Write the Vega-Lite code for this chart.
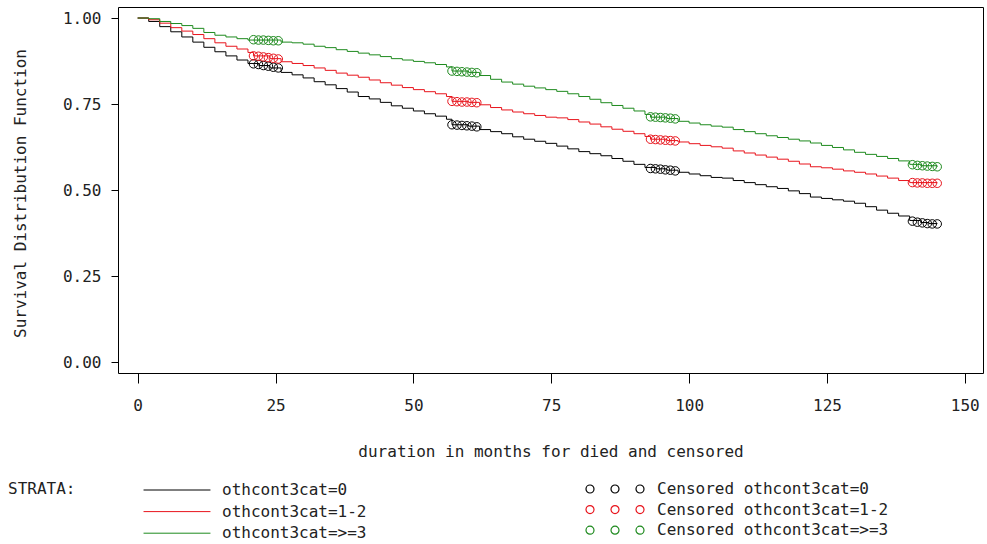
{
  "$schema": "https://vega.github.io/schema/vega-lite/v6.json",
  "width": 865,
  "height": 366,
  "autosize": {"type": "none"},
  "padding": {"left": 118, "top": 7, "right": 4, "bottom": 171},
  "background": "white",
  "config": {
    "view": {"stroke": "#000000", "strokeWidth": 1},
    "font": "DejaVu Sans Mono",
    "axis": {"domain": false, "grid": false, "tickColor": "#000000", "labelColor": "#222222", "titleColor": "#222222", "labelFont": "DejaVu Sans Mono", "titleFont": "DejaVu Sans Mono", "labelFontSize": 16, "titleFontSize": 16, "titleFontWeight": "normal"},
    "legend": {"labelFont": "DejaVu Sans Mono", "titleFont": "DejaVu Sans Mono", "labelFontSize": 16, "titleFontSize": 16, "titleFontWeight": "normal", "labelColor": "#222222", "titleColor": "#222222", "labelLimit": 500}
  },
  "datasets": {
    "curves": [
      {"strata": "othcont3cat=0", "t": 0, "s": 1.0},
      {"strata": "othcont3cat=0", "t": 2, "s": 0.99},
      {"strata": "othcont3cat=0", "t": 4, "s": 0.975},
      {"strata": "othcont3cat=0", "t": 6, "s": 0.96},
      {"strata": "othcont3cat=0", "t": 8, "s": 0.945},
      {"strata": "othcont3cat=0", "t": 10, "s": 0.93},
      {"strata": "othcont3cat=0", "t": 12, "s": 0.915},
      {"strata": "othcont3cat=0", "t": 14, "s": 0.902},
      {"strata": "othcont3cat=0", "t": 16, "s": 0.89},
      {"strata": "othcont3cat=0", "t": 18, "s": 0.878},
      {"strata": "othcont3cat=0", "t": 20, "s": 0.868},
      {"strata": "othcont3cat=0", "t": 22, "s": 0.862},
      {"strata": "othcont3cat=0", "t": 24, "s": 0.855},
      {"strata": "othcont3cat=0", "t": 26, "s": 0.842},
      {"strata": "othcont3cat=0", "t": 28, "s": 0.835},
      {"strata": "othcont3cat=0", "t": 30, "s": 0.826},
      {"strata": "othcont3cat=0", "t": 32, "s": 0.815},
      {"strata": "othcont3cat=0", "t": 34, "s": 0.806},
      {"strata": "othcont3cat=0", "t": 36, "s": 0.795},
      {"strata": "othcont3cat=0", "t": 38, "s": 0.785},
      {"strata": "othcont3cat=0", "t": 40, "s": 0.772},
      {"strata": "othcont3cat=0", "t": 42, "s": 0.765},
      {"strata": "othcont3cat=0", "t": 44, "s": 0.755},
      {"strata": "othcont3cat=0", "t": 46, "s": 0.745},
      {"strata": "othcont3cat=0", "t": 48, "s": 0.738},
      {"strata": "othcont3cat=0", "t": 50, "s": 0.73},
      {"strata": "othcont3cat=0", "t": 52, "s": 0.722},
      {"strata": "othcont3cat=0", "t": 54, "s": 0.715},
      {"strata": "othcont3cat=0", "t": 56, "s": 0.706},
      {"strata": "othcont3cat=0", "t": 57, "s": 0.69},
      {"strata": "othcont3cat=0", "t": 60, "s": 0.686},
      {"strata": "othcont3cat=0", "t": 62, "s": 0.676},
      {"strata": "othcont3cat=0", "t": 64, "s": 0.67},
      {"strata": "othcont3cat=0", "t": 66, "s": 0.664},
      {"strata": "othcont3cat=0", "t": 68, "s": 0.655},
      {"strata": "othcont3cat=0", "t": 70, "s": 0.648},
      {"strata": "othcont3cat=0", "t": 72, "s": 0.642},
      {"strata": "othcont3cat=0", "t": 74, "s": 0.636},
      {"strata": "othcont3cat=0", "t": 76, "s": 0.628},
      {"strata": "othcont3cat=0", "t": 78, "s": 0.62},
      {"strata": "othcont3cat=0", "t": 80, "s": 0.612},
      {"strata": "othcont3cat=0", "t": 82, "s": 0.606},
      {"strata": "othcont3cat=0", "t": 84, "s": 0.6},
      {"strata": "othcont3cat=0", "t": 86, "s": 0.592},
      {"strata": "othcont3cat=0", "t": 88, "s": 0.584},
      {"strata": "othcont3cat=0", "t": 90, "s": 0.575},
      {"strata": "othcont3cat=0", "t": 92, "s": 0.566},
      {"strata": "othcont3cat=0", "t": 94, "s": 0.562},
      {"strata": "othcont3cat=0", "t": 96, "s": 0.558},
      {"strata": "othcont3cat=0", "t": 98, "s": 0.552},
      {"strata": "othcont3cat=0", "t": 100, "s": 0.547},
      {"strata": "othcont3cat=0", "t": 102, "s": 0.542},
      {"strata": "othcont3cat=0", "t": 104, "s": 0.537},
      {"strata": "othcont3cat=0", "t": 106, "s": 0.535},
      {"strata": "othcont3cat=0", "t": 108, "s": 0.528},
      {"strata": "othcont3cat=0", "t": 110, "s": 0.522},
      {"strata": "othcont3cat=0", "t": 112, "s": 0.516},
      {"strata": "othcont3cat=0", "t": 114, "s": 0.51},
      {"strata": "othcont3cat=0", "t": 116, "s": 0.505},
      {"strata": "othcont3cat=0", "t": 118, "s": 0.498},
      {"strata": "othcont3cat=0", "t": 120, "s": 0.49},
      {"strata": "othcont3cat=0", "t": 122, "s": 0.48},
      {"strata": "othcont3cat=0", "t": 124, "s": 0.476},
      {"strata": "othcont3cat=0", "t": 126, "s": 0.472},
      {"strata": "othcont3cat=0", "t": 128, "s": 0.468},
      {"strata": "othcont3cat=0", "t": 130, "s": 0.462},
      {"strata": "othcont3cat=0", "t": 132, "s": 0.452},
      {"strata": "othcont3cat=0", "t": 134, "s": 0.442},
      {"strata": "othcont3cat=0", "t": 136, "s": 0.433},
      {"strata": "othcont3cat=0", "t": 138, "s": 0.425},
      {"strata": "othcont3cat=0", "t": 140, "s": 0.412},
      {"strata": "othcont3cat=0", "t": 142, "s": 0.406},
      {"strata": "othcont3cat=0", "t": 143.5, "s": 0.403},
      {"strata": "othcont3cat=0", "t": 145, "s": 0.402},
      {"strata": "othcont3cat=1-2", "t": 0, "s": 1.0},
      {"strata": "othcont3cat=1-2", "t": 2, "s": 0.995},
      {"strata": "othcont3cat=1-2", "t": 4, "s": 0.985},
      {"strata": "othcont3cat=1-2", "t": 6, "s": 0.972},
      {"strata": "othcont3cat=1-2", "t": 8, "s": 0.962},
      {"strata": "othcont3cat=1-2", "t": 10, "s": 0.952},
      {"strata": "othcont3cat=1-2", "t": 12, "s": 0.94},
      {"strata": "othcont3cat=1-2", "t": 14, "s": 0.928},
      {"strata": "othcont3cat=1-2", "t": 16, "s": 0.918},
      {"strata": "othcont3cat=1-2", "t": 18, "s": 0.91},
      {"strata": "othcont3cat=1-2", "t": 20, "s": 0.9},
      {"strata": "othcont3cat=1-2", "t": 21, "s": 0.89},
      {"strata": "othcont3cat=1-2", "t": 24, "s": 0.882},
      {"strata": "othcont3cat=1-2", "t": 26, "s": 0.873},
      {"strata": "othcont3cat=1-2", "t": 28, "s": 0.868},
      {"strata": "othcont3cat=1-2", "t": 30, "s": 0.862},
      {"strata": "othcont3cat=1-2", "t": 32, "s": 0.855},
      {"strata": "othcont3cat=1-2", "t": 34, "s": 0.848},
      {"strata": "othcont3cat=1-2", "t": 36, "s": 0.84},
      {"strata": "othcont3cat=1-2", "t": 38, "s": 0.834},
      {"strata": "othcont3cat=1-2", "t": 40, "s": 0.828},
      {"strata": "othcont3cat=1-2", "t": 42, "s": 0.82},
      {"strata": "othcont3cat=1-2", "t": 44, "s": 0.812},
      {"strata": "othcont3cat=1-2", "t": 46, "s": 0.805},
      {"strata": "othcont3cat=1-2", "t": 48, "s": 0.798},
      {"strata": "othcont3cat=1-2", "t": 50, "s": 0.792},
      {"strata": "othcont3cat=1-2", "t": 52, "s": 0.786},
      {"strata": "othcont3cat=1-2", "t": 54, "s": 0.78},
      {"strata": "othcont3cat=1-2", "t": 56, "s": 0.772},
      {"strata": "othcont3cat=1-2", "t": 57, "s": 0.758},
      {"strata": "othcont3cat=1-2", "t": 60, "s": 0.755},
      {"strata": "othcont3cat=1-2", "t": 62, "s": 0.748},
      {"strata": "othcont3cat=1-2", "t": 64, "s": 0.74},
      {"strata": "othcont3cat=1-2", "t": 66, "s": 0.733},
      {"strata": "othcont3cat=1-2", "t": 68, "s": 0.727},
      {"strata": "othcont3cat=1-2", "t": 70, "s": 0.722},
      {"strata": "othcont3cat=1-2", "t": 72, "s": 0.717},
      {"strata": "othcont3cat=1-2", "t": 74, "s": 0.712},
      {"strata": "othcont3cat=1-2", "t": 76, "s": 0.71},
      {"strata": "othcont3cat=1-2", "t": 78, "s": 0.705},
      {"strata": "othcont3cat=1-2", "t": 80, "s": 0.698},
      {"strata": "othcont3cat=1-2", "t": 82, "s": 0.692},
      {"strata": "othcont3cat=1-2", "t": 84, "s": 0.684},
      {"strata": "othcont3cat=1-2", "t": 86, "s": 0.677},
      {"strata": "othcont3cat=1-2", "t": 88, "s": 0.671},
      {"strata": "othcont3cat=1-2", "t": 90, "s": 0.664},
      {"strata": "othcont3cat=1-2", "t": 92, "s": 0.656},
      {"strata": "othcont3cat=1-2", "t": 93, "s": 0.648},
      {"strata": "othcont3cat=1-2", "t": 96, "s": 0.644},
      {"strata": "othcont3cat=1-2", "t": 98, "s": 0.64},
      {"strata": "othcont3cat=1-2", "t": 100, "s": 0.635},
      {"strata": "othcont3cat=1-2", "t": 102, "s": 0.63},
      {"strata": "othcont3cat=1-2", "t": 104, "s": 0.626},
      {"strata": "othcont3cat=1-2", "t": 106, "s": 0.622},
      {"strata": "othcont3cat=1-2", "t": 108, "s": 0.614},
      {"strata": "othcont3cat=1-2", "t": 110, "s": 0.608},
      {"strata": "othcont3cat=1-2", "t": 112, "s": 0.602},
      {"strata": "othcont3cat=1-2", "t": 114, "s": 0.596},
      {"strata": "othcont3cat=1-2", "t": 116, "s": 0.59},
      {"strata": "othcont3cat=1-2", "t": 118, "s": 0.584},
      {"strata": "othcont3cat=1-2", "t": 120, "s": 0.576},
      {"strata": "othcont3cat=1-2", "t": 122, "s": 0.568},
      {"strata": "othcont3cat=1-2", "t": 124, "s": 0.565},
      {"strata": "othcont3cat=1-2", "t": 126, "s": 0.561},
      {"strata": "othcont3cat=1-2", "t": 128, "s": 0.556},
      {"strata": "othcont3cat=1-2", "t": 130, "s": 0.552},
      {"strata": "othcont3cat=1-2", "t": 132, "s": 0.547},
      {"strata": "othcont3cat=1-2", "t": 134, "s": 0.541},
      {"strata": "othcont3cat=1-2", "t": 136, "s": 0.535},
      {"strata": "othcont3cat=1-2", "t": 138, "s": 0.528},
      {"strata": "othcont3cat=1-2", "t": 140, "s": 0.522},
      {"strata": "othcont3cat=1-2", "t": 145, "s": 0.52},
      {"strata": "othcont3cat=>=3", "t": 0, "s": 1.0},
      {"strata": "othcont3cat=>=3", "t": 2, "s": 0.998},
      {"strata": "othcont3cat=>=3", "t": 4, "s": 0.99},
      {"strata": "othcont3cat=>=3", "t": 6, "s": 0.984},
      {"strata": "othcont3cat=>=3", "t": 8, "s": 0.978},
      {"strata": "othcont3cat=>=3", "t": 10, "s": 0.97},
      {"strata": "othcont3cat=>=3", "t": 12, "s": 0.958},
      {"strata": "othcont3cat=>=3", "t": 14, "s": 0.95},
      {"strata": "othcont3cat=>=3", "t": 16, "s": 0.945},
      {"strata": "othcont3cat=>=3", "t": 18, "s": 0.94},
      {"strata": "othcont3cat=>=3", "t": 20, "s": 0.936},
      {"strata": "othcont3cat=>=3", "t": 26, "s": 0.93},
      {"strata": "othcont3cat=>=3", "t": 28, "s": 0.928},
      {"strata": "othcont3cat=>=3", "t": 30, "s": 0.924},
      {"strata": "othcont3cat=>=3", "t": 32, "s": 0.918},
      {"strata": "othcont3cat=>=3", "t": 34, "s": 0.914},
      {"strata": "othcont3cat=>=3", "t": 36, "s": 0.908},
      {"strata": "othcont3cat=>=3", "t": 38, "s": 0.903},
      {"strata": "othcont3cat=>=3", "t": 40, "s": 0.898},
      {"strata": "othcont3cat=>=3", "t": 42, "s": 0.893},
      {"strata": "othcont3cat=>=3", "t": 44, "s": 0.888},
      {"strata": "othcont3cat=>=3", "t": 46, "s": 0.882},
      {"strata": "othcont3cat=>=3", "t": 48, "s": 0.878},
      {"strata": "othcont3cat=>=3", "t": 50, "s": 0.874},
      {"strata": "othcont3cat=>=3", "t": 52, "s": 0.87},
      {"strata": "othcont3cat=>=3", "t": 54, "s": 0.865},
      {"strata": "othcont3cat=>=3", "t": 56, "s": 0.858},
      {"strata": "othcont3cat=>=3", "t": 57, "s": 0.846},
      {"strata": "othcont3cat=>=3", "t": 60, "s": 0.842},
      {"strata": "othcont3cat=>=3", "t": 62, "s": 0.833},
      {"strata": "othcont3cat=>=3", "t": 64, "s": 0.822},
      {"strata": "othcont3cat=>=3", "t": 66, "s": 0.814},
      {"strata": "othcont3cat=>=3", "t": 68, "s": 0.808},
      {"strata": "othcont3cat=>=3", "t": 70, "s": 0.802},
      {"strata": "othcont3cat=>=3", "t": 72, "s": 0.797},
      {"strata": "othcont3cat=>=3", "t": 74, "s": 0.792},
      {"strata": "othcont3cat=>=3", "t": 76, "s": 0.787},
      {"strata": "othcont3cat=>=3", "t": 78, "s": 0.78},
      {"strata": "othcont3cat=>=3", "t": 80, "s": 0.772},
      {"strata": "othcont3cat=>=3", "t": 82, "s": 0.764},
      {"strata": "othcont3cat=>=3", "t": 84, "s": 0.754},
      {"strata": "othcont3cat=>=3", "t": 86, "s": 0.746},
      {"strata": "othcont3cat=>=3", "t": 88, "s": 0.738},
      {"strata": "othcont3cat=>=3", "t": 90, "s": 0.73},
      {"strata": "othcont3cat=>=3", "t": 92, "s": 0.72},
      {"strata": "othcont3cat=>=3", "t": 93, "s": 0.712},
      {"strata": "othcont3cat=>=3", "t": 96, "s": 0.708},
      {"strata": "othcont3cat=>=3", "t": 98, "s": 0.7},
      {"strata": "othcont3cat=>=3", "t": 100, "s": 0.695},
      {"strata": "othcont3cat=>=3", "t": 102, "s": 0.69},
      {"strata": "othcont3cat=>=3", "t": 104, "s": 0.686},
      {"strata": "othcont3cat=>=3", "t": 106, "s": 0.683},
      {"strata": "othcont3cat=>=3", "t": 108, "s": 0.676},
      {"strata": "othcont3cat=>=3", "t": 110, "s": 0.67},
      {"strata": "othcont3cat=>=3", "t": 112, "s": 0.664},
      {"strata": "othcont3cat=>=3", "t": 114, "s": 0.658},
      {"strata": "othcont3cat=>=3", "t": 116, "s": 0.653},
      {"strata": "othcont3cat=>=3", "t": 118, "s": 0.648},
      {"strata": "othcont3cat=>=3", "t": 120, "s": 0.643},
      {"strata": "othcont3cat=>=3", "t": 122, "s": 0.637},
      {"strata": "othcont3cat=>=3", "t": 124, "s": 0.63},
      {"strata": "othcont3cat=>=3", "t": 126, "s": 0.624},
      {"strata": "othcont3cat=>=3", "t": 128, "s": 0.617},
      {"strata": "othcont3cat=>=3", "t": 130, "s": 0.61},
      {"strata": "othcont3cat=>=3", "t": 132, "s": 0.604},
      {"strata": "othcont3cat=>=3", "t": 134, "s": 0.598},
      {"strata": "othcont3cat=>=3", "t": 136, "s": 0.592},
      {"strata": "othcont3cat=>=3", "t": 138, "s": 0.585},
      {"strata": "othcont3cat=>=3", "t": 140, "s": 0.575},
      {"strata": "othcont3cat=>=3", "t": 142, "s": 0.571},
      {"strata": "othcont3cat=>=3", "t": 145, "s": 0.568}
    ],
    "cens": [
      {"c": "Censored othcont3cat=0", "t": 21.0, "s": 0.867},
      {"c": "Censored othcont3cat=0", "t": 21.9, "s": 0.865},
      {"c": "Censored othcont3cat=0", "t": 22.8, "s": 0.862},
      {"c": "Censored othcont3cat=0", "t": 23.7, "s": 0.86},
      {"c": "Censored othcont3cat=0", "t": 24.6, "s": 0.857},
      {"c": "Censored othcont3cat=0", "t": 25.5, "s": 0.855},
      {"c": "Censored othcont3cat=0", "t": 57.0, "s": 0.69},
      {"c": "Censored othcont3cat=0", "t": 57.9, "s": 0.689},
      {"c": "Censored othcont3cat=0", "t": 58.8, "s": 0.688},
      {"c": "Censored othcont3cat=0", "t": 59.7, "s": 0.687},
      {"c": "Censored othcont3cat=0", "t": 60.6, "s": 0.686},
      {"c": "Censored othcont3cat=0", "t": 61.5, "s": 0.684},
      {"c": "Censored othcont3cat=0", "t": 93.0, "s": 0.563},
      {"c": "Censored othcont3cat=0", "t": 93.9, "s": 0.562},
      {"c": "Censored othcont3cat=0", "t": 94.8, "s": 0.561},
      {"c": "Censored othcont3cat=0", "t": 95.7, "s": 0.559},
      {"c": "Censored othcont3cat=0", "t": 96.6, "s": 0.558},
      {"c": "Censored othcont3cat=0", "t": 97.5, "s": 0.556},
      {"c": "Censored othcont3cat=0", "t": 140.5, "s": 0.41},
      {"c": "Censored othcont3cat=0", "t": 141.4, "s": 0.407},
      {"c": "Censored othcont3cat=0", "t": 142.3, "s": 0.405},
      {"c": "Censored othcont3cat=0", "t": 143.2, "s": 0.403},
      {"c": "Censored othcont3cat=0", "t": 144.1, "s": 0.402},
      {"c": "Censored othcont3cat=0", "t": 145.0, "s": 0.402},
      {"c": "Censored othcont3cat=1-2", "t": 21.0, "s": 0.89},
      {"c": "Censored othcont3cat=1-2", "t": 21.9, "s": 0.889},
      {"c": "Censored othcont3cat=1-2", "t": 22.8, "s": 0.887},
      {"c": "Censored othcont3cat=1-2", "t": 23.7, "s": 0.885},
      {"c": "Censored othcont3cat=1-2", "t": 24.6, "s": 0.883},
      {"c": "Censored othcont3cat=1-2", "t": 25.5, "s": 0.881},
      {"c": "Censored othcont3cat=1-2", "t": 57.0, "s": 0.758},
      {"c": "Censored othcont3cat=1-2", "t": 57.9, "s": 0.757},
      {"c": "Censored othcont3cat=1-2", "t": 58.8, "s": 0.756},
      {"c": "Censored othcont3cat=1-2", "t": 59.7, "s": 0.756},
      {"c": "Censored othcont3cat=1-2", "t": 60.6, "s": 0.755},
      {"c": "Censored othcont3cat=1-2", "t": 61.5, "s": 0.754},
      {"c": "Censored othcont3cat=1-2", "t": 93.0, "s": 0.648},
      {"c": "Censored othcont3cat=1-2", "t": 93.9, "s": 0.647},
      {"c": "Censored othcont3cat=1-2", "t": 94.8, "s": 0.646},
      {"c": "Censored othcont3cat=1-2", "t": 95.7, "s": 0.645},
      {"c": "Censored othcont3cat=1-2", "t": 96.6, "s": 0.644},
      {"c": "Censored othcont3cat=1-2", "t": 97.5, "s": 0.643},
      {"c": "Censored othcont3cat=1-2", "t": 140.5, "s": 0.522},
      {"c": "Censored othcont3cat=1-2", "t": 141.4, "s": 0.521},
      {"c": "Censored othcont3cat=1-2", "t": 142.3, "s": 0.521},
      {"c": "Censored othcont3cat=1-2", "t": 143.2, "s": 0.52},
      {"c": "Censored othcont3cat=1-2", "t": 144.1, "s": 0.52},
      {"c": "Censored othcont3cat=1-2", "t": 145.0, "s": 0.52},
      {"c": "Censored othcont3cat=>=3", "t": 21.0, "s": 0.937},
      {"c": "Censored othcont3cat=>=3", "t": 21.9, "s": 0.936},
      {"c": "Censored othcont3cat=>=3", "t": 22.8, "s": 0.936},
      {"c": "Censored othcont3cat=>=3", "t": 23.7, "s": 0.935},
      {"c": "Censored othcont3cat=>=3", "t": 24.6, "s": 0.934},
      {"c": "Censored othcont3cat=>=3", "t": 25.5, "s": 0.934},
      {"c": "Censored othcont3cat=>=3", "t": 57.0, "s": 0.846},
      {"c": "Censored othcont3cat=>=3", "t": 57.9, "s": 0.845},
      {"c": "Censored othcont3cat=>=3", "t": 58.8, "s": 0.844},
      {"c": "Censored othcont3cat=>=3", "t": 59.7, "s": 0.843},
      {"c": "Censored othcont3cat=>=3", "t": 60.6, "s": 0.842},
      {"c": "Censored othcont3cat=>=3", "t": 61.5, "s": 0.841},
      {"c": "Censored othcont3cat=>=3", "t": 93.0, "s": 0.713},
      {"c": "Censored othcont3cat=>=3", "t": 93.9, "s": 0.712},
      {"c": "Censored othcont3cat=>=3", "t": 94.8, "s": 0.711},
      {"c": "Censored othcont3cat=>=3", "t": 95.7, "s": 0.71},
      {"c": "Censored othcont3cat=>=3", "t": 96.6, "s": 0.709},
      {"c": "Censored othcont3cat=>=3", "t": 97.5, "s": 0.707},
      {"c": "Censored othcont3cat=>=3", "t": 140.5, "s": 0.574},
      {"c": "Censored othcont3cat=>=3", "t": 141.4, "s": 0.572},
      {"c": "Censored othcont3cat=>=3", "t": 142.3, "s": 0.571},
      {"c": "Censored othcont3cat=>=3", "t": 143.2, "s": 0.57},
      {"c": "Censored othcont3cat=>=3", "t": 144.1, "s": 0.569},
      {"c": "Censored othcont3cat=>=3", "t": 145.0, "s": 0.568}
    ]
  },
  "layer": [
    {
      "data": {"name": "curves"},
      "mark": {"type": "line", "interpolate": "step-after", "strokeWidth": 1},
      "encoding": {
        "x": {
          "field": "t", "type": "quantitative",
          "scale": {"domain": [-3.57, 153.3], "nice": false, "zero": false},
          "axis": {"values": [0, 25, 50, 75, 100, 125, 150], "tickSize": 10, "labelPadding": 14, "title": "duration in months for died and censored", "titleBaseline": "middle", "titleY": 78, "labelFlush": false}
        },
        "y": {
          "field": "s", "type": "quantitative",
          "scale": {"domain": [-0.031, 1.032], "nice": false, "zero": false},
          "axis": {"values": [0, 0.25, 0.5, 0.75, 1], "format": ".2f", "tickSize": 7, "labelPadding": 10, "title": "Survival Distribution Function", "titleX": -98, "titleY": 186, "titleBaseline": "middle", "titleAnchor": "middle", "titleAlign": "center", "labelFlush": false}
        },
        "color": {
          "field": "strata", "type": "nominal",
          "scale": {"domain": ["othcont3cat=0", "othcont3cat=1-2", "othcont3cat=>=3"], "range": ["#000000", "#e8141c", "#1e8a1e"]},
          "legend": {
            "title": "STRATA:", "orient": "none", "legendX": -110, "legendY": 474,
            "titleOrient": "left", "titleAnchor": "start", "titleBaseline": "top", "titleAngle": 0, "titlePadding": 92,
            "symbolType": "M -4 0 L 4 0", "symbolSize": 280, "symbolStrokeWidth": 1,
            "labelOffset": 36, "rowPadding": 4.6
          }
        }
      }
    },
    {
      "data": {"name": "cens"},
      "mark": {"type": "point", "filled": false, "size": 72, "strokeWidth": 1, "opacity": 1},
      "encoding": {
        "x": {"field": "t", "type": "quantitative"},
        "y": {"field": "s", "type": "quantitative"},
        "stroke": {
          "field": "c", "type": "nominal",
          "scale": {"domain": ["Censored othcont3cat=0", "Censored othcont3cat=1-2", "Censored othcont3cat=>=3"], "range": ["#000000", "#e8141c", "#1e8a1e"]},
          "legend": {
            "title": null, "orient": "none", "legendX": 489, "legendY": 474,
            "symbolType": "M -7.25 0 A 1 1 0 1 0 -5.25 0 A 1 1 0 1 0 -7.25 0 Z M -1 0 A 1 1 0 1 0 1 0 A 1 1 0 1 0 -1 0 Z M 5.25 0 A 1 1 0 1 0 7.25 0 A 1 1 0 1 0 5.25 0 Z",
            "symbolSize": 64, "symbolStrokeWidth": 1.2, "symbolFillColor": "transparent",
            "labelOffset": 34, "rowPadding": 4.6
          }
        }
      }
    }
  ]
}
